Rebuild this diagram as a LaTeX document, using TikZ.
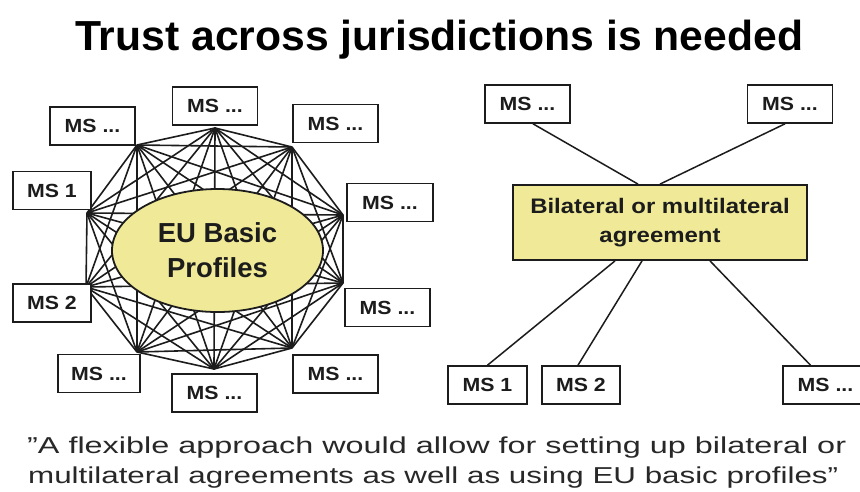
\documentclass[tikz,border=0pt]{standalone}
\usepackage{fontspec}
\setmainfont{Liberation Sans}
\usetikzlibrary{shapes.geometric}
\definecolor{ylw}{RGB}{240,234,152}
\definecolor{ink}{RGB}{28,28,28}
\definecolor{qtxt}{RGB}{40,40,40}
\newcommand{\mstext}[1]{\scalebox{1.12}[1]{#1}}
\newcommand{\agrtext}[1]{\scalebox{1.14}[1]{#1}}

\begin{document}
\begin{tikzpicture}[x=1pt,y=-1pt,
  msbox/.style={draw=ink, line width=1.6pt, fill=white, minimum width=85pt, minimum height=38pt, inner sep=0pt, font=\bfseries\fontsize{19}{19}\selectfont, text=ink},
  web/.style={draw=ink, line width=1.6pt},
  link/.style={draw=ink, line width=1.5pt},
  yfill/.style={draw=ink, line width=1.8pt, fill=ylw, text=ink, inner sep=0pt},
]
\useasboundingbox (0,0) rectangle (860,491);
\fill[white] (0,0) rectangle (860,491);

% title
\node[anchor=base west, inner sep=0pt] (title) at (75,50)
  {\resizebox{728pt}{\height}{\fontsize{42}{42}\selectfont\bfseries Trust across jurisdictions is needed}};

% ---------- left: full mesh ----------
\coordinate (v0) at (215,128);
\coordinate (v1) at (292,147);
\coordinate (v2) at (343,215);
\coordinate (v3) at (343,283);
\coordinate (v4) at (292,348);
\coordinate (v5) at (214,369);
\coordinate (v6) at (137,352);
\coordinate (v7) at (86,287);
\coordinate (v8) at (87,213);
\coordinate (v9) at (137,145);

\foreach \i in {0,...,9}{
  \foreach \j in {0,...,9}{
    \ifnum\i<\j \draw[web] (v\i) -- (v\j); \fi
  }
}

\node[ellipse, yfill, minimum width=211pt, minimum height=123pt, align=center,
      font=\bfseries\fontsize{27.5}{35}\selectfont] (eu) at (217.5,250.5) {EU Basic\\Profiles};

\node[msbox] (l0) at (215,106) {\mstext{MS ...}};
\node[msbox] (l1) at (335.5,123.5) {\mstext{MS ...}};
\node[msbox, minimum width=86pt] (l2) at (390,202.5) {\mstext{MS ...}};
\node[msbox] (l3) at (387.5,307.5) {\mstext{MS ...}};
\node[msbox] (l4) at (335.5,374) {\mstext{MS ...}};
\node[msbox] (l5) at (214.5,393) {\mstext{MS ...}};
\node[msbox, minimum width=82pt] (l6) at (99,373.5) {\mstext{MS ...}};
\node[msbox, minimum width=78pt] (l7) at (52,303) {\mstext{MS 2}};
\node[msbox, minimum width=78pt] (l8) at (52,190.5) {\mstext{MS 1}};
\node[msbox] (l9) at (92.5,126) {\mstext{MS ...}};

% ---------- right: agreement ----------
\node[yfill, minimum width=294pt, minimum height=75pt, align=center,
      font=\bfseries\fontsize{21}{29}\selectfont] (agr) at (660,222.5)
      {\agrtext{Bilateral or multilateral}\\\agrtext{agreement}};

\node[msbox] (rtl) at (527.5,104) {\mstext{MS ...}};
\node[msbox] (rtr) at (790,104) {\mstext{MS ...}};
\node[msbox, minimum width=79pt] (rb1) at (487.5,385) {\mstext{MS 1}};
\node[msbox, minimum width=78pt] (rb2) at (581,385) {\mstext{MS 2}};
\node[msbox] (rb3) at (825.5,385) {\mstext{MS ...}};

\draw[link] ([xshift=5.5pt]rtl.south) -- ([xshift=-22pt]agr.north);
\draw[link] ([xshift=-5pt]rtr.south) -- (agr.north);
\draw[link] ([xshift=-45pt]agr.south) -- (rb1.north);
\draw[link] ([xshift=-18pt]agr.south) -- ([xshift=-3pt]rb2.north);
\draw[link] ([xshift=50pt]agr.south) -- ([xshift=-15pt]rb3.north);

% quote
\node[anchor=base west, inner sep=0pt, text=qtxt] (q1) at (27,453)
  {\resizebox{819pt}{\height}{\fontsize{23}{23}\selectfont "A flexible approach would allow for setting up bilateral or}};
\node[anchor=base west, inner sep=0pt, text=qtxt] (q2) at (28,483)
  {\resizebox{810pt}{\height}{\fontsize{23}{23}\selectfont multilateral agreements as well as using EU basic profiles"}};
\end{tikzpicture}
\end{document}
